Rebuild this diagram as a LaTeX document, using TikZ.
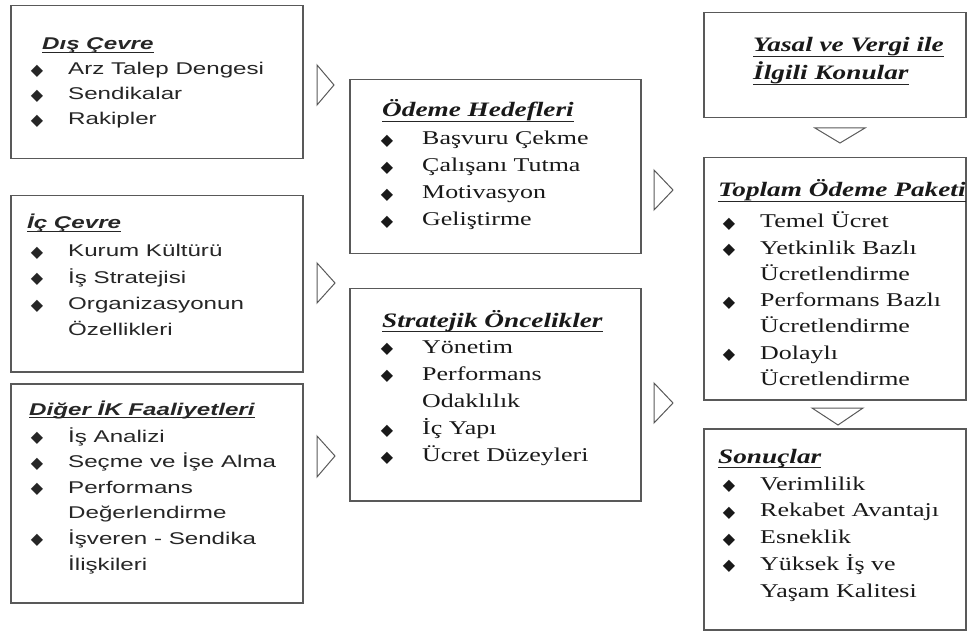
\documentclass[tikz,border=0pt]{standalone}
\usepackage{fontspec}
\setmainfont{Liberation Serif}
\newfontfamily\sansf{Liberation Sans}[FakeStretch=1.42]
\newfontfamily\serf{Liberation Serif}[FakeStretch=1.33]
\newfontfamily\bulf{DejaVu Sans}
\usetikzlibrary{calc}
\newcommand\bul[1][25pt]{\llap{\raisebox{-0.5pt}{\bulf\fontsize{16}{16}\selectfont ◆}\hspace{#1}}}
\newcommand\itemlist[6]{\foreach \t [count=\i] in {#6} {\node[#1] (#2\i) at (#3, {#4+#5*(\i-1)}) {\t};}}
\newcommand\undl[2]{\draw[uline] ([yshift=-#2]#1.base west) -- ([yshift=-#2]#1.base east);}

\begin{document}
\begin{tikzpicture}[x=1pt, y=-1pt,
	box/.style={draw=black!65, line width=1.5pt, fill=white, anchor=north west, inner sep=0pt},
	sitem/.style={anchor=base west, inner sep=0pt, text=black!85, font=\sansf\fontsize{17}{20}\selectfont},
	stitle/.style={sitem, font=\sansf\fontsize{17}{20}\selectfont\bfseries\itshape},
	ritem/.style={anchor=base west, inner sep=0pt, text=black!90, font=\serf\fontsize{19.5}{23}\selectfont},
	rtitle/.style={ritem, font=\serf\fontsize{20.5}{23}\selectfont\bfseries\itshape},
	uline/.style={line width=1.3pt, black!85},
	chev/.style={draw=black!65, line width=1pt, line join=miter}]
	%%%%% START %%%%%
	\useasboundingbox (0,0) rectangle (967,631);
	
	% left column
	\node[box, minimum width=292pt, minimum height=153pt] (dis) at (10,5) {};
	\node[box, minimum width=292pt, minimum height=176pt] (ic) at (10,195) {};
	\node[box, minimum width=292pt, minimum height=219pt] (diger) at (10,383) {};
	
	\node[stitle] (dis-t) at (42,50) {Dış Çevre};
	\undl{dis-t}{2.5pt}
	\itemlist{sitem}{dis}{68}{75}{25}{\bul Arz Talep Dengesi, \bul Sendikalar, \bul Rakipler}
	
	\node[stitle] (ic-t) at (27,229) {İç Çevre};
	\undl{ic-t}{2.5pt}
	\itemlist{sitem}{ic}{68}{257}{26.3}{\bul Kurum Kültürü, \bul İş Stratejisi, \bul Organizasyonun, Özellikleri}
	
	\node[stitle] (diger-t) at (29,415) {Diğer İK Faaliyetleri};
	\undl{diger-t}{2.5pt}
	\itemlist{sitem}{diger}{68}{442}{25.6}{\bul İş Analizi, \bul Seçme ve İşe Alma, \bul Performans, Değerlendirme, \bul İşveren - Sendika, İlişkileri}
	
	% middle column
	\node[box, minimum width=291pt, minimum height=174pt] (odeme) at (349,79) {};
	\node[box, minimum width=291pt, minimum height=212pt] (strat) at (349,288) {};
	
	\node[rtitle] (odeme-t) at (382,117) {Ödeme Hedefleri};
	\undl{odeme-t}{4.5pt}
	\itemlist{ritem}{odeme}{422}{145}{27}{\bul[29pt]Başvuru Çekme, \bul[29pt]Çalışanı Tutma, \bul[29pt]Motivasyon, \bul[29pt]Geliştirme}
	
	\node[rtitle] (strat-t) at (382,327) {Stratejik Öncelikler};
	\undl{strat-t}{4.5pt}
	\itemlist{ritem}{strat}{422}{353}{27.2}{\bul[29pt]Yönetim, \bul[29pt]Performans, Odaklılık, \bul[29pt]İç Yapı, \bul[29pt]Ücret Düzeyleri}
	
	% right column
	\node[box, minimum width=262pt, minimum height=105pt] (yasal) at (703,12) {};
	\node[box, minimum width=262pt, minimum height=242pt] (toplam) at (703,157) {};
	\node[box, minimum width=262pt, minimum height=201pt] (sonuc) at (703,428) {};
	
	\node[rtitle] (yasal-t1) at (753,52) {Yasal ve Vergi ile};
	\node[rtitle] (yasal-t2) at (753,80) {İlgili Konular};
	\undl{yasal-t1}{4.5pt}
	\undl{yasal-t2}{4.5pt}
	
	\node[rtitle] (toplam-t) at (718,197) {Toplam Ödeme Paketi};
	\undl{toplam-t}{4.5pt}
	\itemlist{ritem}{toplam}{760}{228}{26.2}{\bul Temel Ücret, \bul Yetkinlik Bazlı, Ücretlendirme, \bul Performans Bazlı, Ücretlendirme, \bul Dolaylı, Ücretlendirme}
	
	\node[rtitle] (sonuc-t) at (718,463) {Sonuçlar};
	\undl{sonuc-t}{4.5pt}
	\itemlist{ritem}{sonuc}{760}{490}{26.75}{\bul Verimlilik, \bul Rekabet Avantajı, \bul Esneklik, \bul Yüksek İş ve, Yaşam Kalitesi}
	
	% chevrons
	\draw[chev] (317,65) -- (334,85) -- (317,105) -- cycle;
	\draw[chev] (317,263) -- (335,283) -- (317,303) -- cycle;
	\draw[chev] (317,436) -- (335,456) -- (317,477) -- cycle;
	\draw[chev] (654,170) -- (673,190) -- (654,210) -- cycle;
	\draw[chev] (654,383) -- (673,403) -- (654,423) -- cycle;
	\draw[chev] (815,128) -- (865,128) -- (840,143) -- cycle;
	\draw[chev] (812,408) -- (863,408) -- (838,425) -- cycle;
	%%%%% END %%%%%
\end{tikzpicture}
\end{document}
